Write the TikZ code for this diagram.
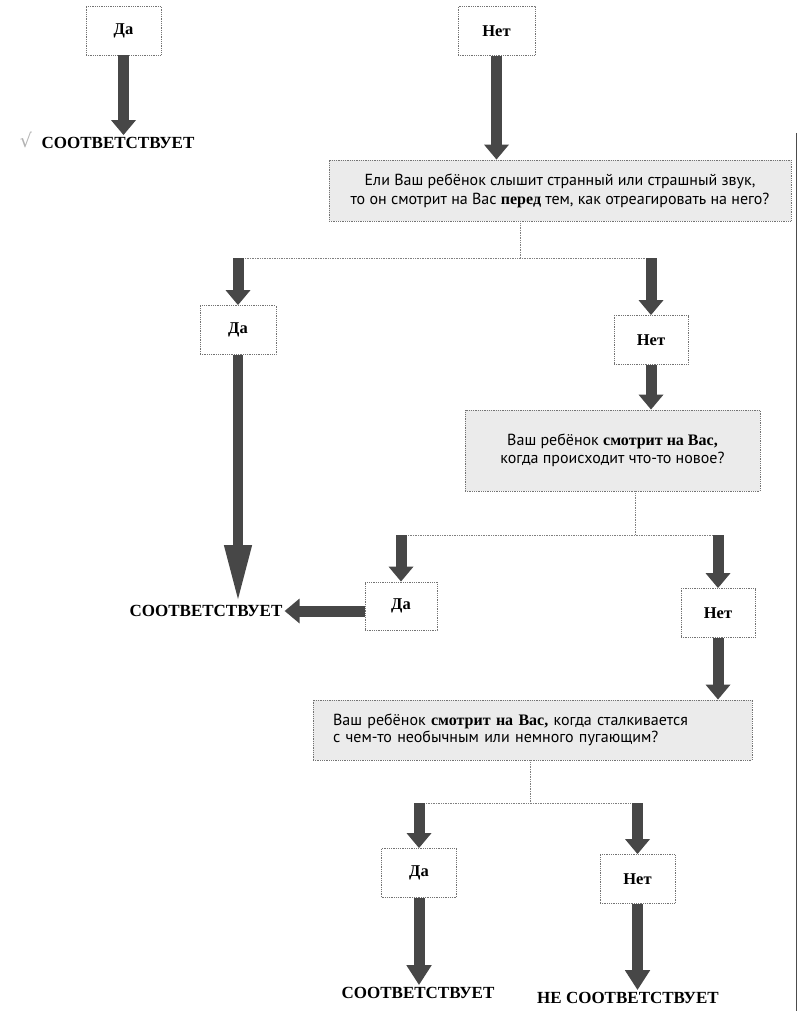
\documentclass[tikz,border=0pt]{standalone}
\usepackage{fontspec}
\setmainfont{Liberation Serif}
\newfontfamily\qfont{PT Sans}
\newfontfamily\symfont{DejaVu Sans}
\usetikzlibrary{arrows.meta,positioning}

\tikzset{
  answer/.style={draw=black!55, densely dotted, line width=0.8pt, fill=white,
    minimum width=75pt, minimum height=49pt, font=\fontsize{16.5}{18}\selectfont\bfseries},
  question/.style={draw=black!55, densely dotted, line width=0.8pt, fill=black!8,
    inner sep=0pt, font=\qfont\fontsize{16}{19}\selectfont},
  verdict/.style={font=\fontsize{17}{19}\selectfont\bfseries, inner sep=2pt},
  bigarrow/.style={draw=black!72, line width=11pt, -{Triangle[width=24pt,length=15pt]}},
  branch/.style={draw=black!50, densely dotted, line width=0.7pt},
}

\begin{document}
\begin{tikzpicture}[x=1pt,y=-1pt]
    \useasboundingbox (0,0) rectangle (799,1011);
    % page edge of the scan
    \draw[black!70, line width=1pt] (796,133) -- (796,1011);

    % Top: answers to the previous question
    \node[answer] (yes0) at (123.5,30.5) {Да};
    \node[answer, minimum width=77pt] (no0) at (496.5,31) {Нет};
    \node[verdict] (ok0) at (118,143) {СООТВЕТСТВУЕТ};
    \node[font=\symfont\fontsize{19}{20}\selectfont, text=black!30] (tick0) at (26,140) {√};

    % First question
    \node[question, minimum width=462pt, minimum height=61pt, align=center] (q1) at (560,190.5)
        {Ели Ваш ребёнок слышит странный или страшный звук,\\
         то он смотрит на Вас {\rmfamily\bfseries перед} тем, как отреагировать на него?};
    \coordinate (f1) at (520,258);
    \node[answer, minimum width=76pt] (yes1) at (238,330) {Да};
    \node[answer, minimum width=74pt] (no1) at (651,340) {Нет};
    \node[verdict] (ok1) at (206,611) {СООТВЕТСТВУЕТ};

    % Second question
    \node[question, minimum width=295pt, minimum height=81pt, align=center,
          font=\qfont\fontsize{16}{18}\selectfont] (q2) at (612.5,450.5)
        {Ваш ребёнок {\rmfamily\bfseries смотрит на Вас,}\\
         когда происходит что-то новое?};
    \coordinate (f2) at (635,535);
    \node[answer, minimum width=72pt, minimum height=48pt] (yes2) at (401,606) {Да};
    \node[answer, minimum width=74pt] (no2) at (718,613) {Нет};

    % Third question
    \node[question, minimum height=60pt, inner xsep=20pt, text width=399pt, align=left,
          font=\qfont\fontsize{16}{17}\selectfont] (q3) at (532.5,730)
        {Ваш ребёнок {\rmfamily\bfseries смотрит на Вас,} когда сталкивается\\
         с чем-то необычным или немного пугающим?};
    \coordinate (f3) at (530,803);
    \node[answer] (yes3) at (419,873) {Да};
    \node[answer] (no3) at (637.5,879) {Нет};
    \node[verdict] (ok3) at (418,993) {СООТВЕТСТВУЕТ};
    \node[verdict] (notok3) at (628,998) {НЕ СООТВЕТСТВУЕТ};

    % Branch lines
    \draw[branch] (f1 |- q1.south) -- (f1);
    \draw[branch] (yes1 |- f1) -- (no1 |- f1);
    \draw[branch] (f2 |- q2.south) -- (f2);
    \draw[branch] (yes2 |- f2) -- (no2 |- f2);
    \draw[branch] (f3 |- q3.south) -- (f3);
    \draw[branch] (yes3 |- f3) -- (no3 |- f3);

    % Arrows
    \draw[bigarrow] (yes0.south) -- (yes0.south |- ok0.north);
    \draw[bigarrow] (no0.south) -- (no0.south |- q1.north);
    \draw[bigarrow] (yes1 |- f1) -- (yes1.north);
    \draw[bigarrow] (no1 |- f1) -- (no1.north);
    \draw[bigarrow, line width=10pt, -{Triangle[width=25pt,length=58pt]}] (yes1.south) -- (yes1.south |- ok1.north);
    \draw[bigarrow] (no1.south) -- (no1.south |- q2.north);
    \draw[bigarrow] (yes2 |- f2) -- (yes2.north);
    \draw[bigarrow] (no2 |- f2) -- (no2.north);
    \draw[bigarrow] (yes2.west |- ok1.east) -- (ok1.east);
    \draw[bigarrow] (no2.south) -- (no2.south |- q3.north);
    \draw[bigarrow] (yes3 |- f3) -- (yes3.north);
    \draw[bigarrow] (no3 |- f3) -- (no3.north);
    \draw[bigarrow, -{Triangle[width=24pt,length=20pt]}] (yes3.south) -- (yes3.south |- ok3.north);
    \draw[bigarrow, -{Triangle[width=24pt,length=20pt]}] (no3.south) -- (no3.south |- notok3.north);
\end{tikzpicture}
\end{document}
